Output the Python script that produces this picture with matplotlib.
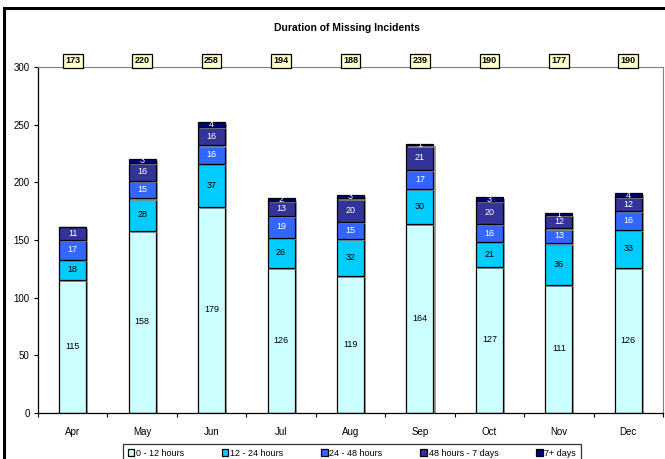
import numpy as np
import matplotlib
matplotlib.use("Agg")
import matplotlib.pyplot as plt
import matplotlib.patheffects as pe
from matplotlib.patches import Rectangle

plt.rcParams['font.family'] = ['Liberation Sans', 'DejaVu Sans']

months = ['Apr', 'May', 'Jun', 'Jul', 'Aug', 'Sep', 'Oct', 'Nov', 'Dec']
h0_12 = [115, 158, 179, 126, 119, 164, 127, 111, 126]
h12_24 = [18, 28, 37, 26, 32, 30, 21, 36, 33]
h24_48 = [17, 15, 16, 19, 15, 17, 16, 13, 16]
h48_7d = [11, 16, 16, 13, 20, 21, 20, 12, 12]
d7_plus = [0, 3, 4, 2, 3, 1, 3, 1, 4]
totals = [173, 220, 258, 194, 188, 239, 190, 177, 190]

series = [h0_12, h12_24, h24_48, h48_7d, d7_plus]
names = ['0 - 12 hours', '12 - 24 hours', '24 - 48 hours', '48 hours - 7 days', '7+ days']
colors = ['#CCFFFF', '#00CCFF', '#3366FF', '#333399', '#000080']
text_colors = ['black', 'black', 'white', 'white', 'white']

fig = plt.figure(figsize=(6.65, 4.59), dpi=100)
# chart frame
fig.patches.append(Rectangle((4 / 665, -0.05), 1.0, 1.05 - 8 / 459, transform=fig.transFigure,
                             fill=False, edgecolor='black', linewidth=2.2))
ax = fig.add_axes([38 / 665, 1 - 413 / 459, (663 - 38) / 665, (413 - 67) / 459])

x = np.arange(len(months))
bottom = np.zeros(len(months))
for vals, name, col, tcol in zip(series, names, colors, text_colors):
    vals = np.array(vals)
    bars = ax.bar(x, vals, width=0.39, bottom=bottom, color=col, edgecolor='black',
                  linewidth=0.9, label=name,
                  path_effects=[pe.SimplePatchShadow(offset=(1.5, -1.5), shadow_rgbFace='#888888', alpha=0.8),
                                pe.Normal()])
    for xi, b, v in zip(x, bottom, vals):
        if v > 0:
            ax.text(xi, b + v / 2, str(v), ha='center', va='center', fontsize=6.5, color=tcol)
    bottom = bottom + vals

for xi, t in zip(x, totals):
    ax.text(xi, 301.5, str(t), ha='center', va='bottom', fontsize=6.5, fontweight='bold',
            bbox=dict(boxstyle='square,pad=0.25', facecolor='#FFFFCC', edgecolor='black', linewidth=0.9),
            clip_on=False)

ax.set_xlim(-0.5, len(months) - 0.5)
ax.set_ylim(0, 300)
ax.set_yticks(range(0, 301, 50))
ax.set_xticks(x)
ax.set_xticklabels(months)
ax.set_xticks(np.arange(-0.5, len(months), 1.0), minor=True)
ax.tick_params(axis='x', which='major', length=0, pad=10, labelsize=7)
ax.tick_params(axis='x', which='minor', length=3, width=0.8, direction='out')
ax.tick_params(axis='y', length=3, width=0.8, direction='out', labelsize=7, pad=3)
for s in ['top', 'right']:
    ax.spines[s].set_color('#808080')
    ax.spines[s].set_linewidth(0.8)
for s in ['left', 'bottom']:
    ax.spines[s].set_color('black')
    ax.spines[s].set_linewidth(0.9)

fig.text(347 / 665, 1 - 28 / 459, 'Duration of Missing Incidents', ha='center', va='center',
         fontsize=7.5, fontweight='bold')

leg = fig.legend(loc='center', bbox_to_anchor=(352 / 665, 1 - 453 / 459), ncol=5, fontsize=6.5,
                 frameon=True, fancybox=False, edgecolor='black', handlelength=0.7, handleheight=0.7,
                 handletextpad=0.2, columnspacing=4.2, borderpad=0.5)
leg.get_frame().set_linewidth(0.9)
for h in leg.legend_handles:
    h.set_path_effects([])

fig.savefig('out.png', dpi=100)
